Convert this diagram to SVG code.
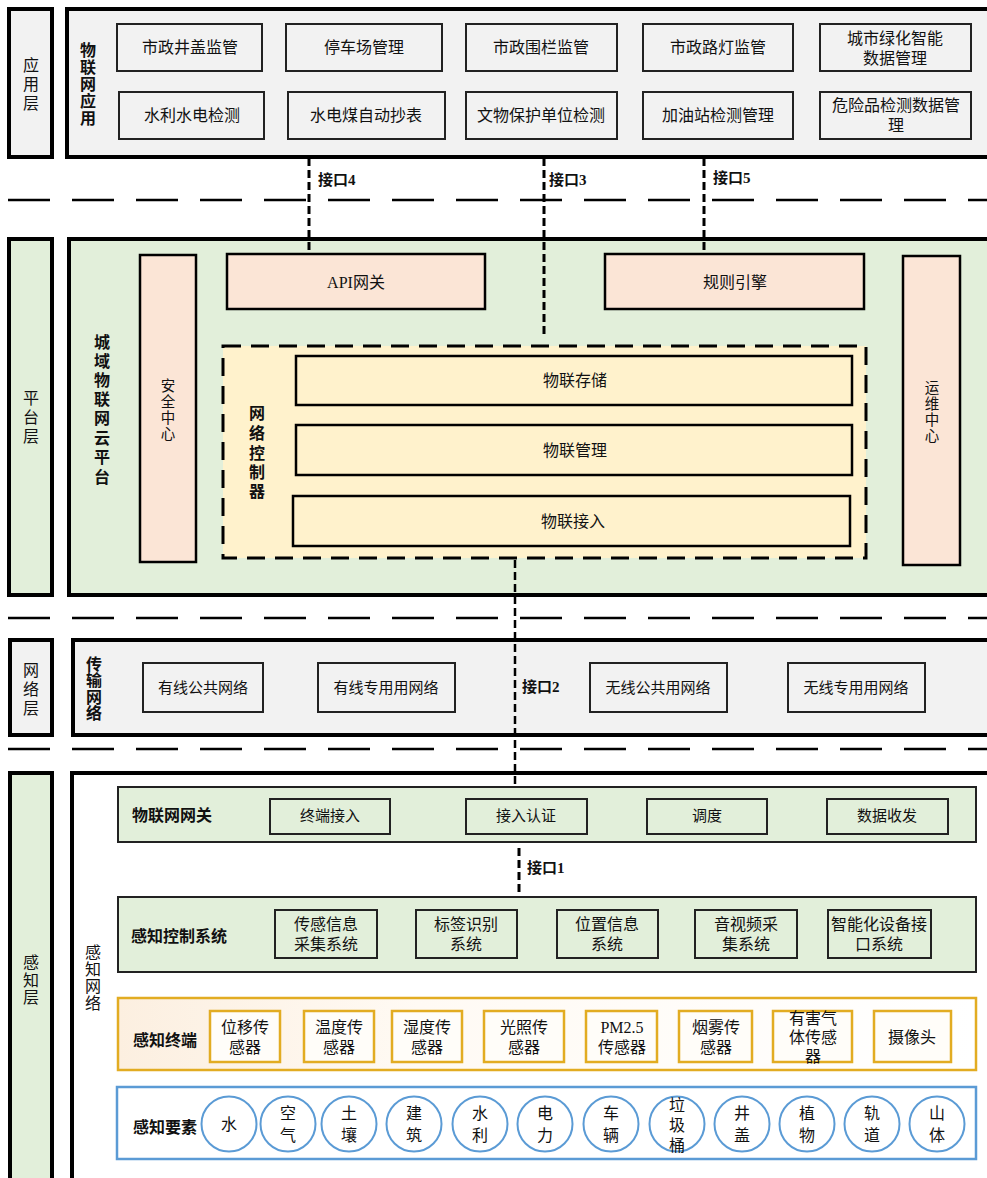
<svg xmlns="http://www.w3.org/2000/svg" width="987" height="1178" viewBox="0 0 987 1178">
<defs>
<style>
text { font-family: "Liberation Serif", "Noto Sans CJK SC", serif; fill:#111; font-size:16px; text-anchor:middle; dominant-baseline:central; }
.b { font-weight:bold; }
.s15 { font-size:15px; }
.s14 { font-size:14.5px; }
.st { text-anchor:start; }
.layer { stroke:#000; stroke-width:4; }
.box { stroke:#222; stroke-width:2; }
.gray { fill:#f2f2f2; }
.green { fill:#e2efda; }
.peach { fill:#fbe5d6; }
.yellow { fill:#fff2cc; }
.white { fill:#fff; }
.gold { stroke:#e2ac22; stroke-width:2.5; fill:url(#cream); }
.goldc { stroke:#e2ac22; stroke-width:2.5; fill:#fffdf9; }
.blue { stroke:#5b9bd5; stroke-width:2.5; fill:#fff; }
.circ { stroke:#5b9bd5; stroke-width:2; fill:#fff; }
.sep { stroke:#000; stroke-width:2.5; stroke-dasharray:42 22; fill:none; }
.iface { stroke:#000; stroke-width:3; stroke-dasharray:8 4; fill:none; }
.ctrl { stroke:#000; stroke-width:3; stroke-dasharray:18 10; fill:#fff2cc; }
</style>
<linearGradient id="cream" x1="0" y1="0" x2="1" y2="0">
<stop offset="0" stop-color="#fcefe0"/>
<stop offset="0.35" stop-color="#fffaf4"/>
<stop offset="1" stop-color="#ffffff"/>
</linearGradient>
</defs>
<rect width="987" height="1178" fill="#fff"/>

<g id="separators">
<line class="sep" x1="8" y1="200" x2="987" y2="200"/>
<line class="sep" x1="8" y1="618" x2="987" y2="618"/>
<line class="sep" x1="8" y1="749" x2="987" y2="749"/>
</g>

<g id="application-layer">
<rect class="layer gray" x="9" y="9" width="43" height="148"/>
<text x="31"><tspan x="31" y="65">应</tspan><tspan x="31" y="84">用</tspan><tspan x="31" y="103">层</tspan></text>
<rect class="layer gray" x="67" y="9" width="940" height="148"/>
<text class="b"><tspan x="88" y="50">物</tspan><tspan x="88" y="67">联</tspan><tspan x="88" y="84">网</tspan><tspan x="88" y="101">应</tspan><tspan x="88" y="118">用</tspan></text>
<g id="app-1"><rect class="box gray" x="117" y="24" width="145" height="47"/><text x="190" y="47">市政井盖监管</text></g>
<g id="app-2"><rect class="box gray" x="286" y="24" width="156" height="47"/><text x="364" y="47">停车场管理</text></g>
<g id="app-3"><rect class="box gray" x="466" y="24" width="151" height="47"/><text x="541" y="47">市政围栏监管</text></g>
<g id="app-4"><rect class="box gray" x="643" y="24" width="150" height="47"/><text x="718" y="47">市政路灯监管</text></g>
<g id="app-5"><rect class="box gray" x="820" y="24" width="151" height="47"/><text x="895" y="38">城市绿化智能</text><text x="895" y="58">数据管理</text></g>
<g id="app-6"><rect class="box gray" x="119" y="92" width="145" height="47"/><text x="192" y="115">水利水电检测</text></g>
<g id="app-7"><rect class="box gray" x="288" y="92" width="157" height="47"/><text x="366" y="115">水电煤自动抄表</text></g>
<g id="app-8"><rect class="box gray" x="466" y="92" width="151" height="47"/><text x="541" y="115">文物保护单位检测</text></g>
<g id="app-9"><rect class="box gray" x="643" y="92" width="150" height="47"/><text x="718" y="115">加油站检测管理</text></g>
<g id="app-10"><rect class="box gray" x="820" y="92" width="151" height="47"/><text x="896" y="105">危险品检测数据管</text><text x="896" y="125">理</text></g>
</g>

<g id="platform-layer">
<rect class="layer green" x="9" y="239" width="43" height="356"/>
<text><tspan x="31" y="398">平</tspan><tspan x="31" y="417">台</tspan><tspan x="31" y="436">层</tspan></text>
<rect class="layer green" x="69" y="239" width="940" height="356"/>
<text class="b"><tspan x="102" y="342">城</tspan><tspan x="102" y="361">域</tspan><tspan x="102" y="380">物</tspan><tspan x="102" y="399">联</tspan><tspan x="102" y="418">网</tspan><tspan x="102" y="438">云</tspan><tspan x="102" y="457">平</tspan><tspan x="102" y="477">台</tspan></text>
<g id="security-center"><rect class="layer peach" style="stroke-width:2.5" x="140" y="255" width="56" height="307"/>
<text class="s14"><tspan x="168" y="386">安</tspan><tspan x="168" y="402">全</tspan><tspan x="168" y="418">中</tspan><tspan x="168" y="434">心</tspan></text></g>
<g id="api-gateway"><rect class="layer peach" style="stroke-width:2.5" x="227" y="254" width="258" height="55"/><text x="356" y="282">API网关</text></g>
<g id="rule-engine"><rect class="layer peach" style="stroke-width:2.5" x="605" y="254" width="259" height="55"/><text x="735" y="282">规则引擎</text></g>
<g id="ops-center"><rect class="layer peach" style="stroke-width:2.5" x="903" y="256" width="57" height="309"/>
<text class="s14"><tspan x="932" y="388">运</tspan><tspan x="932" y="404">维</tspan><tspan x="932" y="420">中</tspan><tspan x="932" y="436">心</tspan></text></g>
<g id="network-controller"><rect class="ctrl" x="223" y="346" width="643" height="212"/>
<text class="b"><tspan x="257" y="413">网</tspan><tspan x="257" y="433">络</tspan><tspan x="257" y="453">控</tspan><tspan x="257" y="472">制</tspan><tspan x="257" y="491">器</tspan></text>
<g id="iot-storage"><rect class="layer yellow" style="stroke-width:2.5" x="296" y="356" width="556" height="49"/><text x="575" y="380">物联存储</text></g>
<g id="iot-management"><rect class="layer yellow" style="stroke-width:2.5" x="296" y="425" width="556" height="50"/><text x="575" y="450">物联管理</text></g>
<g id="iot-access"><rect class="layer yellow" style="stroke-width:2.5" x="293" y="496" width="557" height="50"/><text x="573" y="521">物联接入</text></g>
</g>
</g>

<g id="network-layer">
<rect class="layer gray" x="10" y="640" width="42" height="95"/>
<text><tspan x="31" y="670">网</tspan><tspan x="31" y="689">络</tspan><tspan x="31" y="708">层</tspan></text>
<rect class="layer gray" x="73" y="640" width="940" height="95"/>
<text class="b"><tspan x="94" y="664">传</tspan><tspan x="94" y="680">输</tspan><tspan x="94" y="697">网</tspan><tspan x="94" y="713">络</tspan></text>
<g id="net-1"><rect class="box gray" x="143" y="663" width="120" height="49"/><text class="s15" x="203" y="688">有线公共网络</text></g>
<g id="net-2"><rect class="box gray" x="318" y="663" width="137" height="49"/><text class="s15" x="386" y="688">有线专用用网络</text></g>
<g id="net-3"><rect class="box gray" x="590" y="663" width="137" height="49"/><text class="s15" x="658" y="688">无线公共用网络</text></g>
<g id="net-4"><rect class="box gray" x="788" y="663" width="137" height="49"/><text class="s15" x="856" y="688">无线专用用网络</text></g>
</g>

<g id="sensing-layer">
<rect class="layer green" x="10" y="773" width="42" height="420"/>
<text><tspan x="31" y="962">感</tspan><tspan x="31" y="980">知</tspan><tspan x="31" y="997">层</tspan></text>
<rect class="layer white" x="72" y="773" width="940" height="420"/>
<text><tspan x="93" y="952">感</tspan><tspan x="93" y="969">知</tspan><tspan x="93" y="986">网</tspan><tspan x="93" y="1003">络</tspan></text>

<g id="iot-gateway"><rect class="box green" x="118" y="787" width="858" height="55"/>
<text class="b st" x="132" y="815">物联网网关</text>
<rect class="box green" x="270" y="799" width="120" height="35"/><text class="s15" x="330" y="816">终端接入</text>
<rect class="box green" x="466" y="799" width="121" height="35"/><text class="s15" x="526" y="816">接入认证</text>
<rect class="box green" x="647" y="799" width="120" height="35"/><text class="s15" x="707" y="816">调度</text>
<rect class="box green" x="827" y="799" width="121" height="35"/><text class="s15" x="887" y="816">数据收发</text>
</g>

<g id="sensing-control"><rect class="box green" x="118" y="897" width="858" height="75"/>
<text class="b st" x="131" y="936">感知控制系统</text>
<rect class="box green" x="275" y="910" width="102" height="48"/><text x="326" y="924">传感信息</text><text x="326" y="944">采集系统</text>
<rect class="box green" x="416" y="910" width="101" height="48"/><text x="466" y="924">标签识别</text><text x="466" y="944">系统</text>
<rect class="box green" x="557" y="910" width="101" height="48"/><text x="607" y="924">位置信息</text><text x="607" y="944">系统</text>
<rect class="box green" x="695" y="910" width="102" height="48"/><text x="746" y="924">音视频采</text><text x="746" y="944">集系统</text>
<rect class="box green" x="828" y="910" width="103" height="48"/><text x="879" y="924">智能化设备接</text><text x="879" y="944">口系统</text>
</g>

<g id="sensing-terminal"><rect class="gold" x="118" y="998" width="858" height="72"/>
<text class="b st" x="133" y="1040">感知终端</text>
<rect class="goldc" x="210" y="1011" width="70" height="51"/><text x="245" y="1027">位移传</text><text x="245" y="1047">感器</text>
<rect class="goldc" x="304" y="1011" width="70" height="51"/><text x="339" y="1027">温度传</text><text x="339" y="1047">感器</text>
<rect class="goldc" x="392" y="1011" width="70" height="51"/><text x="427" y="1027">湿度传</text><text x="427" y="1047">感器</text>
<rect class="goldc" x="484" y="1011" width="80" height="51"/><text x="524" y="1027">光照传</text><text x="524" y="1047">感器</text>
<rect class="goldc" x="586" y="1011" width="71" height="51"/><text x="622" y="1027">PM2.5</text><text x="622" y="1047">传感器</text>
<rect class="goldc" x="679" y="1011" width="73" height="51"/><text x="716" y="1027">烟雾传</text><text x="716" y="1047">感器</text>
<rect class="goldc" x="773" y="1011" width="79" height="51"/><text x="813" y="1018">有害气</text><text x="813" y="1037">体传感</text><text x="813" y="1056">器</text>
<rect class="goldc" x="874" y="1011" width="77" height="51"/><text x="912" y="1037">摄像头</text>
</g>

<g id="sensing-elements"><rect class="blue" x="117" y="1087" width="859" height="72"/>
<text class="b st" x="133" y="1127">感知要素</text>
<circle class="circ" cx="229" cy="1124" r="27.5"/><text x="229" y="1124">水</text>
<circle class="circ" cx="288" cy="1124" r="27.5"/><text x="288" y="1113">空</text><text x="288" y="1135">气</text>
<circle class="circ" cx="349" cy="1124" r="27.5"/><text x="349" y="1113">土</text><text x="349" y="1135">壤</text>
<circle class="circ" cx="414" cy="1124" r="27.5"/><text x="414" y="1113">建</text><text x="414" y="1135">筑</text>
<circle class="circ" cx="480" cy="1124" r="27.5"/><text x="480" y="1113">水</text><text x="480" y="1135">利</text>
<circle class="circ" cx="545" cy="1124" r="27.5"/><text x="545" y="1113">电</text><text x="545" y="1135">力</text>
<circle class="circ" cx="611" cy="1124" r="27.5"/><text x="611" y="1113">车</text><text x="611" y="1135">辆</text>
<circle class="circ" cx="677" cy="1124" r="27.5"/><text x="677" y="1105">垃</text><text x="677" y="1125">圾</text><text x="677" y="1145">桶</text>
<circle class="circ" cx="742" cy="1124" r="27.5"/><text x="742" y="1113">井</text><text x="742" y="1135">盖</text>
<circle class="circ" cx="807" cy="1124" r="27.5"/><text x="807" y="1113">植</text><text x="807" y="1135">物</text>
<circle class="circ" cx="872" cy="1124" r="27.5"/><text x="872" y="1113">轨</text><text x="872" y="1135">道</text>
<circle class="circ" cx="937" cy="1124" r="27.5"/><text x="937" y="1113">山</text><text x="937" y="1135">体</text>
</g>
</g>

<g id="connectors">
<line class="iface" x1="309" y1="158" x2="309" y2="252"/>
<text class="b st s15" x="318" y="180">接口4</text>
<line class="iface" x1="544" y1="158" x2="544" y2="335"/>
<text class="b st s15" x="549" y="180">接口3</text>
<line class="iface" x1="704" y1="158" x2="704" y2="252"/>
<text class="b st s15" x="713" y="178">接口5</text>
<line class="iface" style="stroke-width:2.5" x1="515" y1="560" x2="515" y2="786"/>
<text class="b st s15" x="522" y="687">接口2</text>
<line class="iface" x1="519" y1="848" x2="519" y2="892"/>
<text class="b st s15" x="527" y="868">接口1</text>
</g>
</svg>
